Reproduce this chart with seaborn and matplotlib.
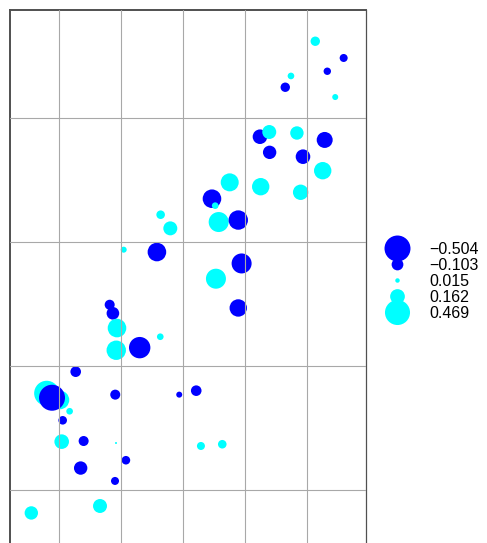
import numpy as np
import pandas as pd
import matplotlib
matplotlib.use("Agg")
import matplotlib.pyplot as plt
from matplotlib.lines import Line2D
import seaborn as sns

# easting / northing (m) and residual value of each sample
x_coord = [181067, 181296, 181164, 180871, 180825, 181228, 180621, 180696,
           180919, 181143, 180699, 180968, 181127, 180377, 180627, 180949,
           180234, 180260, 179820, 179898, 180288, 180446, 179522, 179790,
           180266, 180473, 180446, 179409, 179435, 179468, 179462, 179651,
           179817, 179135, 178901, 179008, 178944, 179086, 179030, 179454,
           179970, 180107, 179022, 179199, 179460, 180145, 180317, 179540,
           179175, 179452, 178777, 179331]
y_coord = [333619, 333484, 333377, 333339, 333248, 333169, 332849, 332887,
           332879, 332823, 332723, 332688, 332575, 332481, 332446, 332401,
           332349, 332293, 332220, 332110, 332161, 332177, 331938, 331919,
           331704, 331827, 331468, 331494, 331425, 331306, 331127, 331148,
           331236, 330954, 330780, 330726, 330744, 330635, 330562, 330769,
           330769, 330801, 330390, 330395, 330379, 330355, 330369, 330240,
           330177, 330073, 329815, 329871]
residual = [0.066, -0.048, -0.041, 0.033, -0.066, 0.027, -0.159, 0.146,
            0.134, -0.191, -0.134, -0.159, 0.226, 0.242, 0.226, 0.177,
            -0.258, 0.033, 0.055, 0.146, 0.299, -0.281, 0.027, -0.258,
            0.299, -0.299, -0.226, -0.075, -0.119, 0.258, 0.281, -0.342,
            0.033, -0.084, 0.469, 0.258, -0.504, 0.033, -0.055, -0.075,
            -0.027, -0.084, 0.159, -0.075, 0.003, 0.048, 0.055, -0.055,
            -0.134, -0.048, 0.134, 0.146]

legend_values = [-0.504, -0.103, 0.015, 0.162, 0.469]
legend_labels = ["\u22120.504", "\u22120.103", "0.015", "0.162", "0.469"]

NEG_COLOR = "#0000ff"
POS_COLOR = "#00ffff"
SIZE_K = 694  # marker area (pt^2) per unit |residual|

df = pd.DataFrame({"x": x_coord, "y": y_coord, "res": residual})
df["sign"] = np.where(df["res"] < 0, "neg", "pos")
df["absres"] = df["res"].abs()

sns.set_style("white")
plt.rcParams["font.family"] = ["Liberation Sans", "DejaVu Sans"]

fig = plt.figure(figsize=(4.87, 5.43), dpi=100)
ax = fig.add_axes([0.0205, -0.0184, 0.731, 1.0])

sns.scatterplot(data=df, x="x", y="y", hue="sign", size="absres",
                palette={"neg": NEG_COLOR, "pos": POS_COLOR},
                sizes=(0, SIZE_K), size_norm=(0, 1),
                linewidth=0, legend=False, ax=ax, zorder=2)

ax.set_xlim(178605, 181476)
ax.set_ylim(329492, 333871)
ax.set_xticks([179000, 179500, 180000, 180500, 181000])
ax.set_yticks([330000, 331000, 332000, 333000])
# grid drawn over the bubbles, as in the original
ax.grid(True, color="#a8a8a8", linewidth=0.8, zorder=3)
ax.set_axisbelow(False)
ax.tick_params(length=0, labelbottom=False, labelleft=False)
ax.set_xlabel("")
ax.set_ylabel("")
for side in ["top", "left"]:
    ax.spines[side].set_linewidth(1.4)
    ax.spines[side].set_color("#505050")
ax.spines["right"].set_linewidth(0.9)
ax.spines["right"].set_color("#505050")
ax.spines["bottom"].set_visible(False)

handles = [Line2D([], [], linestyle="", marker="o",
                  markersize=np.sqrt(SIZE_K * abs(v)),
                  markerfacecolor=NEG_COLOR if v < 0 else POS_COLOR,
                  markeredgewidth=0)
           for v in legend_values]
fig.legend(handles, legend_labels, loc="center left",
           bbox_to_anchor=(0.799, 0.482), frameon=False, fontsize=11.5,
           handlelength=1.0, handletextpad=1.5, labelspacing=0.07,
           borderpad=0, borderaxespad=0, labelcolor="black")

fig.savefig("out.png", dpi=100)
